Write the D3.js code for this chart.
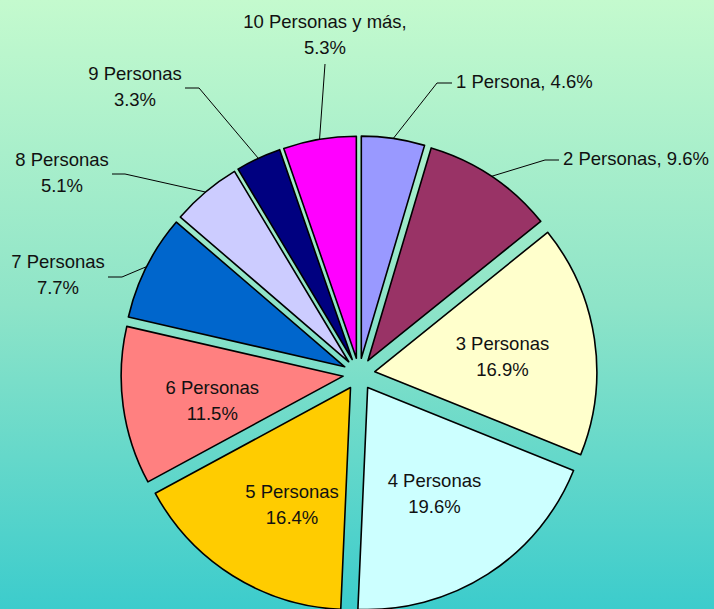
<!DOCTYPE html>
<html>
<head>
<meta charset="utf-8">
<script src="https://cdn.jsdelivr.net/npm/d3@7"></script>
<style>
  html, body { margin: 0; padding: 0; overflow: hidden; }
  text { font-family: "Liberation Sans", Arial, sans-serif; font-size: 18.5px; fill: #111; }
</style>
</head>
<body>
<div id="chart"></div>
<script>
// household size distribution
const categories = ['1 Persona', '2 Personas', '3 Personas', '4 Personas', '5 Personas',
	'6 Personas', '7 Personas', '8 Personas', '9 Personas', '10 Personas y más'];
const shares = [4.6, 9.6, 16.9, 19.6, 16.4, 11.5, 7.7, 5.1, 3.3, 5.3];
const pctLabels = ['4.6%', '9.6%', '16.9%', '19.6%', '16.4%', '11.5%', '7.7%', '5.1%', '3.3%', '5.3%'];
const colors = ['#9999FF', '#993366', '#FFFFCC', '#CCFFFF', '#FFCC00',
	'#FF8080', '#0066CC', '#CCCCFF', '#000080', '#FF00FF'];

const svgWidth = 714;
const svgHeight = 609;
const cx = 359, cy = 374;
const radius = 222;
const explode = 16;
const lineGap = 26;

// label placement: inside labels sit on a ring (with a small nudge),
// outside ones get a leader line: [elbow, end], text at tx/ty
const labelLayout = [
	{leader: [[437, 83], [452, 83]], tx: 456, ty: 82, anchor: 'start', oneLine: true},
	{leader: [[545, 160], [559, 160]], tx: 563, ty: 159, anchor: 'start', oneLine: true},
	{inside: true, nudge: [0, -2]},
	{inside: true, nudge: [-3, -8]},
	{inside: true, nudge: [10, 2]},
	{inside: true, nudge: [-3, 1]},
	{leader: [[122, 277], [108, 277]], tx: 58, ty: 262, anchor: 'middle'},
	{leader: [[125, 174], [112, 174]], tx: 62, ty: 160, anchor: 'middle'},
	{leader: [[199, 88], [185, 88]], tx: 135, ty: 74, anchor: 'middle'},
	{leader: [[325, 64]], tx: 325, ty: 22, anchor: 'middle', comma: true}
];

const svg = d3.select('#chart').append('svg')
	.attr('width', svgWidth)
	.attr('height', svgHeight);

const grad = svg.append('defs').append('linearGradient')
	.attr('id', 'bg')
	.attr('x1', 0).attr('y1', 0).attr('x2', 0).attr('y2', 1);
grad.append('stop').attr('offset', '0%').attr('stop-color', '#C4FACE');
grad.append('stop').attr('offset', '50%').attr('stop-color', '#8EE4C8');
grad.append('stop').attr('offset', '100%').attr('stop-color', '#3CCCCC');

svg.append('rect')
	.attr('width', svgWidth)
	.attr('height', svgHeight)
	.attr('fill', 'url(#bg)');

const pie = d3.pie().sort(null).value(d => d);
const arcs = pie(shares);

const arc = d3.arc().innerRadius(0).outerRadius(radius);
const edgeArc = d3.arc().innerRadius(radius).outerRadius(radius);
const insideArc = d3.arc().innerRadius(129).outerRadius(129);

const mid = d => (d.startAngle + d.endAngle) / 2;
const shift = d => [explode * Math.sin(mid(d)), -explode * Math.cos(mid(d))];

const slices = svg.selectAll('g.slice').data(arcs).enter()
	.append('g')
	.attr('class', 'slice')
	.attr('transform', d => {
		const s = shift(d);
		return `translate(${cx + s[0]}, ${cy + s[1]})`;
	});

slices.append('path')
	.attr('d', arc)
	.attr('fill', (d, i) => colors[i])
	.attr('stroke', '#000')
	.attr('stroke-width', 1.6)
	.attr('stroke-linejoin', 'round');

// leader lines
arcs.forEach((d, i) => {
	const lay = labelLayout[i];
	if (lay.inside) return;
	const s = shift(d);
	const p = edgeArc.centroid(d);
	const pts = [[cx + s[0] + p[0], cy + s[1] + p[1]]].concat(lay.leader);
	svg.append('path')
		.attr('d', d3.line()(pts))
		.attr('fill', 'none')
		.attr('stroke', '#000')
		.attr('stroke-width', 1);
});

// two-line label, first line centred on y
function twoLines(x, y, anchor, a, b) {
	const t = svg.append('text')
		.attr('x', x)
		.attr('y', y)
		.attr('text-anchor', anchor);
	t.append('tspan').attr('x', x).attr('dy', '0.35em').text(a);
	t.append('tspan').attr('x', x).attr('dy', lineGap).text(b);
}

arcs.forEach((d, i) => {
	const lay = labelLayout[i];
	if (lay.inside) {
		const s = shift(d);
		const c = insideArc.centroid(d);
		const x = cx + s[0] + c[0] + lay.nudge[0];
		const y = cy + s[1] + c[1] + 5.6 + lay.nudge[1] - lineGap / 2;
		twoLines(x, y, 'middle', categories[i], pctLabels[i]);
	} else if (lay.oneLine) {
		svg.append('text')
			.attr('x', lay.tx)
			.attr('y', lay.ty)
			.attr('dy', '0.35em')
			.attr('text-anchor', lay.anchor)
			.text(`${categories[i]}, ${pctLabels[i]}`);
	} else {
		twoLines(lay.tx, lay.ty, lay.anchor,
			lay.comma ? categories[i] + ',' : categories[i], pctLabels[i]);
	}
});
</script>
</body>
</html>
